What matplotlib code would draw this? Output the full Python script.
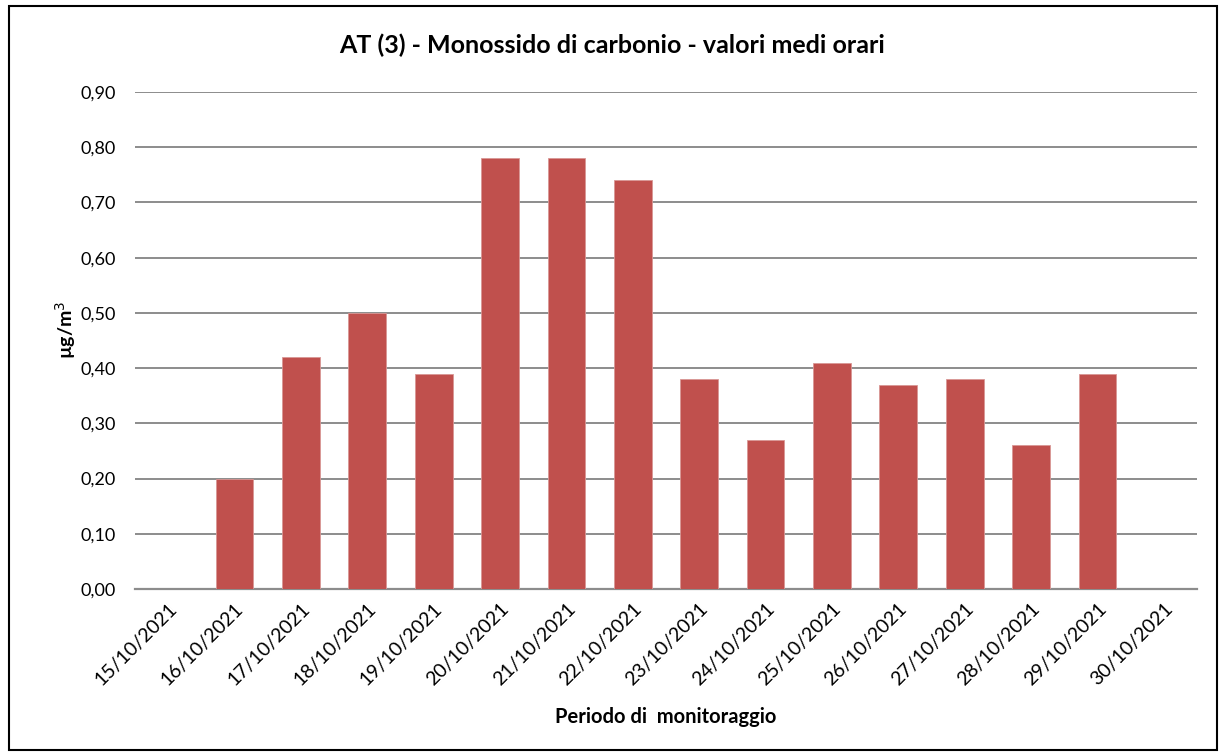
import matplotlib
matplotlib.use("Agg")
import matplotlib.pyplot as plt
from matplotlib.patches import Rectangle
from matplotlib.ticker import FuncFormatter, MultipleLocator

dates = ["15/10/2021", "16/10/2021", "17/10/2021", "18/10/2021", "19/10/2021",
         "20/10/2021", "21/10/2021", "22/10/2021", "23/10/2021", "24/10/2021",
         "25/10/2021", "26/10/2021", "27/10/2021", "28/10/2021", "29/10/2021",
         "30/10/2021"]
values = [0.0, 0.20, 0.42, 0.50, 0.39, 0.78, 0.78, 0.74, 0.38, 0.27,
          0.41, 0.37, 0.38, 0.26, 0.39, 0.0]

plt.rcParams['font.family'] = ['Lato', 'DejaVu Sans']

fig = plt.figure(figsize=(12.23, 7.56), dpi=100)
ax = fig.add_axes([135/1223, 1-589/756, (1197-135)/1223, (589-92)/756])

x = list(range(len(dates)))
ax.bar(x, values, width=0.57, color="#C0504D", edgecolor="#D99795", linewidth=0.6, zorder=3)

ax.set_xlim(-0.5, len(dates) - 0.5)
ax.set_ylim(0, 0.9)
ax.yaxis.set_major_locator(MultipleLocator(0.1))
ax.yaxis.set_major_formatter(FuncFormatter(lambda v, p: f"{v:.2f}".replace(".", ",")))
ax.grid(axis='y', color="#8C8C8C", linewidth=1.4, zorder=0)
ax.set_axisbelow(True)
for s in ['top', 'right', 'left']:
    ax.spines[s].set_visible(False)
ax.spines['bottom'].set_color("#8C8C8C")
ax.spines['bottom'].set_linewidth(1.6)
ax.tick_params(axis='both', length=0, colors='black')
ax.tick_params(axis='y', pad=14, labelsize=13)
ax.set_xticks(x)
ax.set_xticklabels(dates, rotation=45, ha='right', rotation_mode='anchor')
ax.tick_params(axis='x', pad=8, labelsize=14)

fig.text(612/1223, 1-45/756, "AT (3) - Monossido di carbonio - valori medi orari",
         ha='center', va='center', fontsize=18, fontweight='bold')
fig.text(666/1223, 1-717/756, "Periodo di  monitoraggio",
         ha='center', va='center', fontsize=14.5, fontweight='bold')
fig.text(66/1223, 1-330/756, "µg/m$^3$", rotation=90,
         ha='center', va='center', fontsize=14, fontweight='bold')

fig.patches.append(Rectangle((9/1223, 1-750/756), (1217-9)/1223, (750-6)/756,
                             transform=fig.transFigure, fill=False,
                             edgecolor='black', linewidth=1.5))

fig.savefig("out.png", dpi=100)
